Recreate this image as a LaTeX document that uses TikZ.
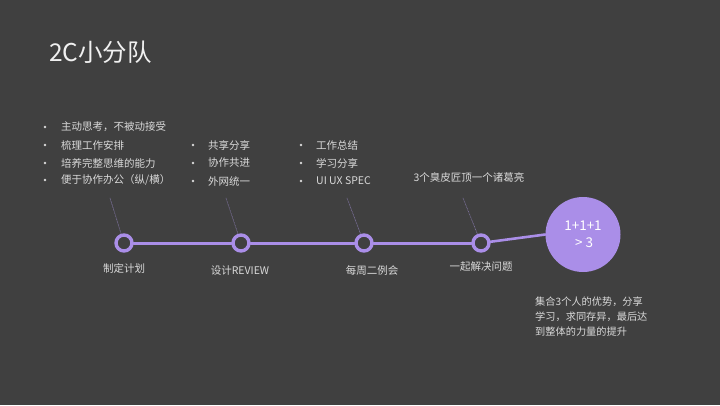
\documentclass[tikz,border=0pt]{standalone}
\usepackage{fontspec}
\setmainfont{Noto Sans CJK SC}
\usetikzlibrary{positioning}
\definecolor{bggray}{RGB}{64,64,64}
\definecolor{tlpurple}{RGB}{170,142,232}
\definecolor{leadgray}{RGB}{130,118,165}
\definecolor{txtgray}{RGB}{218,218,218}

\begin{document}
\begin{tikzpicture}[x=1pt,y=-1pt,line cap=round,line join=round,
    txt/.style={inner sep=0pt,text=txtgray,font=\fontsize{10.5}{12}\selectfont},
    item/.style={txt,anchor=west},
    dot/.style={circle,fill=txtgray,minimum size=2.6pt,inner sep=0pt},
    stepdot/.style={circle,draw=tlpurple,line width=3.4pt,fill=bggray,minimum size=16pt,inner sep=0pt},
    lead/.style={leadgray,line width=0.6pt,densely dotted}]
  \path[fill=bggray,use as bounding box] (0,0) rectangle (720,405);

  % title
  \node[txt,anchor=west,font=\fontsize{24.5}{28}\selectfont,text=white!88!gray] (title) at (49,52) {2C小分队};

  % first list
  \node[dot] (b1a) at (45,127) {};
  \node[item] (i1a) at (61,127) {主动思考，不被动接受};
  \node[dot] (b1b) at (45,145) {};
  \node[item] (i1b) at (61,145) {梳理工作安排};
  \node[dot] (b1c) at (45,163) {};
  \node[item] (i1c) at (61,163) {培养完整思维的能力};
  \node[dot] (b1d) at (45,180) {};
  \node[item] (i1d) at (61,180) {便于协作办公（纵/横）};

  % second list
  \node[dot] (b2a) at (193,145) {};
  \node[item] (i2a) at (208,145) {共享分享};
  \node[dot] (b2b) at (193,163) {};
  \node[item] (i2b) at (208,163) {协作共进};
  \node[dot] (b2c) at (193,181) {};
  \node[item] (i2c) at (208,181) {外网统一};

  % third list
  \node[dot] (b3a) at (301,145) {};
  \node[item] (i3a) at (316,145) {工作总结};
  \node[dot] (b3b) at (301,163) {};
  \node[item] (i3b) at (316,163) {学习分享};
  \node[dot] (b3c) at (301,181) {};
  \node[item] (i3c) at (316,181) {UI UX SPEC};

  \node[txt] (saying) at (469,177) {3个臭皮匠顶一个诸葛亮};

  % timeline
  \node[circle,fill=tlpurple,minimum size=75pt,inner sep=0pt,align=center,
        text=white,font=\fontsize{13.5}{17}\selectfont] (sum) at (583,234.5) {1+1+1\\\,> 3};
  \node[stepdot] (c1) at (124,243) {};
  \node[stepdot] (c2) at (241,243) {};
  \node[stepdot] (c3) at (364,243) {};
  \node[stepdot] (c4) at (481,243) {};
  \draw[tlpurple,line width=3pt] (c1) -- (c2);
  \draw[tlpurple,line width=3pt] (c2) -- (c3);
  \draw[tlpurple,line width=3pt] (c3) -- (c4);
  \draw[tlpurple,line width=2.6pt] (c4) -- (sum.west);

  \coordinate (d1) at (110,198);
  \coordinate (d2) at (226,198);
  \coordinate (d3) at (347,198);
  \coordinate (d4) at (463,198);
  \draw[lead] (d1) -- (c1);
  \draw[lead] (d2) -- (c2);
  \draw[lead] (d3) -- (c3);
  \draw[lead] (d4) -- (c4);

  \node[txt] (s1) at (124,268) {制定计划};
  \node[txt] (s2) at (240,271) {设计REVIEW};
  \node[txt] (s3) at (372,271) {每周二例会};
  \node[txt] (s4) at (481,267) {一起解决问题};

  \node[txt,anchor=north west,align=left,font=\fontsize{10.2}{15}\selectfont] (note) at (535,297)
    {集合3个人的优势，分享\\学习，求同存异，最后达\\到整体的力量的提升};
\end{tikzpicture}
\end{document}
